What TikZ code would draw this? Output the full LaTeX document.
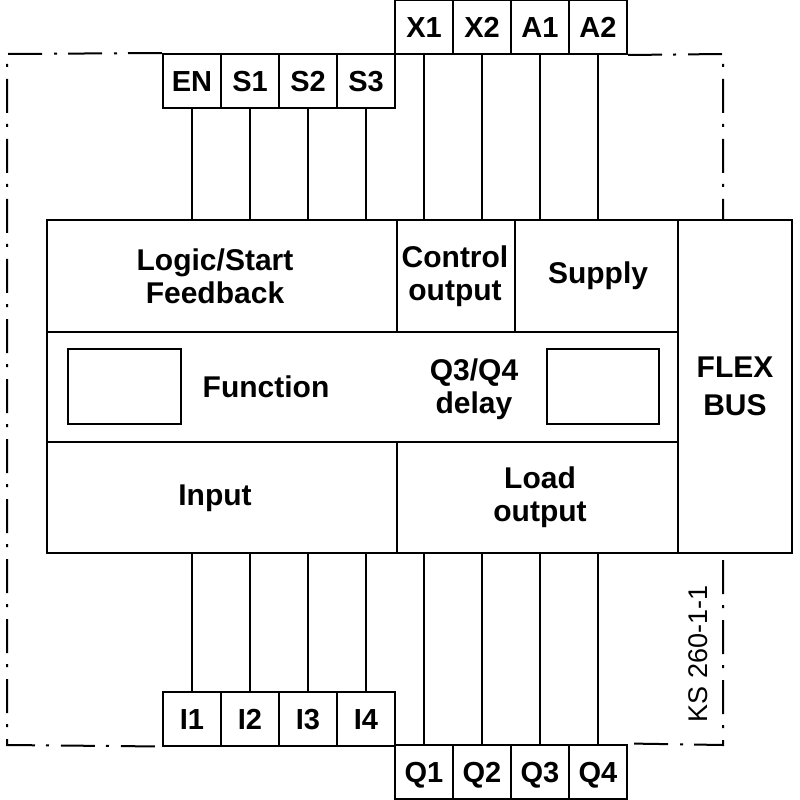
\documentclass[tikz,border=0pt]{standalone}
\usepackage{fontspec}
\setmainfont{Liberation Sans}
\usetikzlibrary{positioning}

\tikzset{
  wire/.style={line width=2pt},
  terminal/.style={draw, line width=2pt, minimum width=58pt, minimum height=54pt,
    inner sep=0pt, text height=21pt, text depth=0pt, font=\bfseries\fontsize{29}{32}\selectfont},
  cell/.style={align=center, font=\bfseries\fontsize{30}{33}\selectfont},
  frame/.style={line width=2pt, dash pattern=on 34pt off 11pt on 3pt off 12pt},
}

\begin{document}
\begin{tikzpicture}[x=1pt,y=-1pt]
\useasboundingbox (0,0) rectangle (800,800);
%main block
\node[draw, wire, minimum width=631pt, minimum height=333pt] (main) at (362.5,386.5) {};
\node[draw, wire, minimum width=114pt, minimum height=333pt, cell, font=\bfseries\fontsize{30}{38}\selectfont] (flexbus) at (735,386.5) {FLEX\\BUS};
%row dividers
\draw[wire] (47,332) -- (678,332);
\draw[wire] (47,442) -- (678,442);
%column dividers
\draw[wire] (397,220) -- (397,332);
\draw[wire] (515,220) -- (515,332);
\draw[wire] (397,442) -- (397,553);
%windows
\node[draw, wire, minimum width=113pt, minimum height=75pt] (fnbox) at (124.5,386.5) {};
\node[draw, wire, minimum width=112pt, minimum height=75pt] (dlybox) at (603,386.5) {};
%cell labels
\node[cell] (logic) at (215,276) {Logic/Start\\Feedback};
\node[cell] (control) at (455,276) {Control\\output};
\node[cell] (supply) at (598,276) {Supply};
\node[cell] (function) at (266,387) {Function};
\node[cell] (delay) at (474,389) {Q3/Q4\\delay};
\node[cell] (input) at (215,498) {Input};
\node[cell] (load) at (540,497) {Load\\output};
%top terminals
\node[terminal] (en) at (192,81) {EN};
\node[terminal] (s1) at (250,81) {S1};
\node[terminal] (s2) at (308,81) {S2};
\node[terminal] (s3) at (366,81) {S3};
\node[terminal] (x1) at (424,27) {X1};
\node[terminal] (x2) at (482,27) {X2};
\node[terminal] (a1) at (540,27) {A1};
\node[terminal] (a2) at (598,27) {A2};
%bottom terminals
\node[terminal] (i1) at (192,718.5) {I1};
\node[terminal] (i2) at (250,718.5) {I2};
\node[terminal] (i3) at (308,718.5) {I3};
\node[terminal] (i4) at (366,718.5) {I4};
\node[terminal] (q1) at (424,771.5) {Q1};
\node[terminal] (q2) at (482,771.5) {Q2};
\node[terminal] (q3) at (540,771.5) {Q3};
\node[terminal] (q4) at (598,771.5) {Q4};
%wires to the top
\draw[wire] (en.south) -- (en.south |- main.north);
\draw[wire] (s1.south) -- (s1.south |- main.north);
\draw[wire] (s2.south) -- (s2.south |- main.north);
\draw[wire] (s3.south) -- (s3.south |- main.north);
\draw[wire] (x1.south) -- (x1.south |- main.north);
\draw[wire] (x2.south) -- (x2.south |- main.north);
\draw[wire] (a1.south) -- (a1.south |- main.north);
\draw[wire] (a2.south) -- (a2.south |- main.north);
%wires to the bottom
\draw[wire] (i1.north) -- (i1.north |- main.south);
\draw[wire] (i2.north) -- (i2.north |- main.south);
\draw[wire] (i3.north) -- (i3.north |- main.south);
\draw[wire] (i4.north) -- (i4.north |- main.south);
\draw[wire] (q1.north) -- (q1.north |- main.south);
\draw[wire] (q2.north) -- (q2.north |- main.south);
\draw[wire] (q3.north) -- (q3.north |- main.south);
\draw[wire] (q4.north) -- (q4.north |- main.south);
%housing outline
\draw[frame] (en.north west) -- (7,54) -- (7,745) -- (i1.south west);
\draw[frame] (a2.south east) -- (723,54) -- (723,220);
\draw[frame] (723,560) -- (723,745) -- (q4.north east);
%drawing number
\node[rotate=90, font=\fontsize{27}{29}\selectfont] (code) at (698,654) {KS 260-1-1};
\end{tikzpicture}
\end{document}
